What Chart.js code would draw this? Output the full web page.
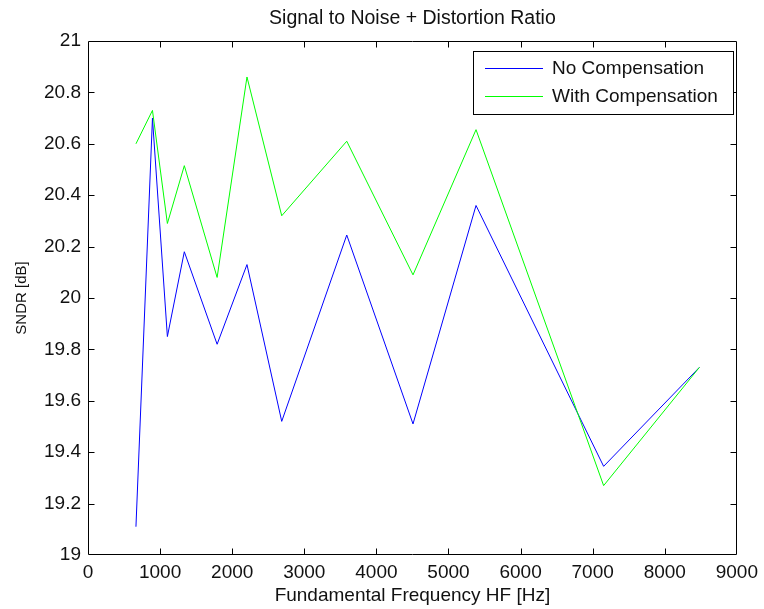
<!DOCTYPE html>
<html>
<head>
<meta charset="utf-8">
<title>Signal to Noise + Distortion Ratio</title>
<script src="https://cdn.jsdelivr.net/npm/chart.js@4"></script>
<style>
  html, body { margin: 0; padding: 0; background: #ffffff; }
  #wrap { width: 764px; height: 609px; }
</style>
</head>
<body>
<div id="wrap"><canvas id="c" width="764" height="609"></canvas></div>
<script>
// Fundamental frequencies of the test tones (Hz)
const freqHz = [665, 894, 1101, 1336, 1791, 2205, 2687, 3589, 4508, 5382, 7152, 8480];
// SNDR measured without compensation (dB)
const sndrNoComp = [19.11, 20.70, 19.85, 20.18, 19.82, 20.13, 19.52, 20.245, 19.51, 20.36, 19.345, 19.73];
// SNDR measured with compensation (dB)
const sndrWithComp = [20.60, 20.73, 20.29, 20.515, 20.08, 20.86, 20.32, 20.61, 20.09, 20.655, 19.27, 19.73];

const seriesLabels = ['No Compensation', 'With Compensation'];
const xTicks = [0, 1000, 2000, 3000, 4000, 5000, 6000, 7000, 8000, 9000];
const xTickLabels = ['0', '1000', '2000', '3000', '4000', '5000', '6000', '7000', '8000', '9000'];
const yTicks = [19, 19.2, 19.4, 19.6, 19.8, 20, 20.2, 20.4, 20.6, 20.8, 21];
const yTickLabels = ['19', '19.2', '19.4', '19.6', '19.8', '20', '20.2', '20.4', '20.6', '20.8', '21'];

const FONT = '"Liberation Sans", Arial, sans-serif';
const TEXT = '#111111';

const toPoints = (xs, ys) => xs.map((x, i) => ({ x: x, y: ys[i] }));

// Axes box with inward tick marks on all four sides, plus a boxed legend
const axesBox = {
  id: 'axesBox',
  afterDatasetsDraw(chart) {
    const { ctx, chartArea, scales } = chart;
    const L = Math.round(chartArea.left) + 0.5;
    const R = Math.round(chartArea.right) - 0.5;
    const T = Math.round(chartArea.top) + 0.5;
    const B = Math.round(chartArea.bottom) - 0.5;
    const tick = 6;
    ctx.save();
    ctx.strokeStyle = '#000000';
    ctx.lineWidth = 1;
    ctx.beginPath();
    ctx.rect(L, T, R - L, B - T);
    scales.x.ticks.forEach(t => {
      const px = Math.round(scales.x.getPixelForValue(t.value)) + 0.5;
      if (px <= L + 1 || px >= R - 1) return;
      ctx.moveTo(px, B); ctx.lineTo(px, B - tick);
      ctx.moveTo(px, T); ctx.lineTo(px, T + tick);
    });
    scales.y.ticks.forEach(t => {
      const py = Math.round(scales.y.getPixelForValue(t.value)) + 0.5;
      if (py <= T + 1 || py >= B - 1) return;
      ctx.moveTo(L, py); ctx.lineTo(L + tick, py);
      ctx.moveTo(R, py); ctx.lineTo(R - tick, py);
    });
    ctx.stroke();

    // legend in the upper right corner of the axes
    const bx = 473.5, by = 51.5, bw = 260, bh = 63;
    ctx.fillStyle = '#ffffff';
    ctx.fillRect(bx, by, bw, bh);
    ctx.strokeRect(bx, by, bw, bh);
    ctx.font = '19px ' + FONT;
    ctx.textBaseline = 'middle';
    ctx.textAlign = 'left';
    const rows = [68, 96];
    chart.data.datasets.forEach((ds, i) => {
      const yy = rows[i] + 0.5;
      ctx.strokeStyle = ds.borderColor;
      ctx.beginPath();
      ctx.moveTo(485, yy);
      ctx.lineTo(543, yy);
      ctx.stroke();
      ctx.fillStyle = TEXT;
      ctx.fillText(ds.label, 552, rows[i] + 1);
    });
    ctx.restore();
  }
};

new Chart(document.getElementById('c'), {
  type: 'scatter',
  data: {
    datasets: [
      {
        label: seriesLabels[0],
        data: toPoints(freqHz, sndrNoComp),
        showLine: true,
        borderColor: '#0000ff',
        backgroundColor: '#0000ff',
        borderWidth: 1,
        pointRadius: 0,
        tension: 0,
        order: 1
      },
      {
        label: seriesLabels[1],
        data: toPoints(freqHz, sndrWithComp),
        showLine: true,
        borderColor: '#00ff00',
        backgroundColor: '#00ff00',
        borderWidth: 1,
        pointRadius: 0,
        tension: 0,
        order: 0
      }
    ]
  },
  options: {
    responsive: false,
    animation: false,
    devicePixelRatio: 1,
    layout: { padding: { left: 0, right: 23, top: 0, bottom: 0 } },
    plugins: {
      legend: { display: false },
      tooltip: { enabled: false },
      title: {
        display: true,
        fullSize: false,
        text: 'Signal to Noise + Distortion Ratio',
        color: TEXT,
        font: { family: FONT, size: 19.5, weight: 'normal' },
        padding: { top: 7, bottom: 10.6 }
      }
    },
    scales: {
      x: {
        type: 'linear',
        min: 0,
        max: 9000,
        grid: { display: false, drawTicks: false },
        border: { display: false },
        afterBuildTicks: s => { s.ticks = xTicks.map(v => ({ value: v })); },
        afterFit: s => { s.height = 54; },
        ticks: {
          autoSkip: false,
          maxRotation: 0,
          padding: 6,
          color: TEXT,
          font: { family: FONT, size: 19 },
          callback: (v, i) => xTickLabels[i]
        },
        title: {
          display: true,
          text: 'Fundamental Frequency HF [Hz]',
          color: TEXT,
          font: { family: FONT, size: 19 },
          padding: { top: 0, bottom: 2 }
        }
      },
      y: {
        type: 'linear',
        min: 19,
        max: 21,
        grid: { display: false, drawTicks: false },
        border: { display: false },
        afterBuildTicks: s => { s.ticks = yTicks.map(v => ({ value: v })); },
        afterFit: s => { s.width = 88; },
        ticks: {
          autoSkip: false,
          padding: 7,
          color: TEXT,
          font: { family: FONT, size: 19 },
          callback: (v, i) => yTickLabels[i]
        },
        title: {
          display: true,
          text: 'SNDR [dB]',
          color: TEXT,
          font: { family: FONT, size: 15 },
          padding: { top: 13, bottom: 0 }
        }
      }
    }
  },
  plugins: [axesBox]
});
</script>
</body>
</html>
